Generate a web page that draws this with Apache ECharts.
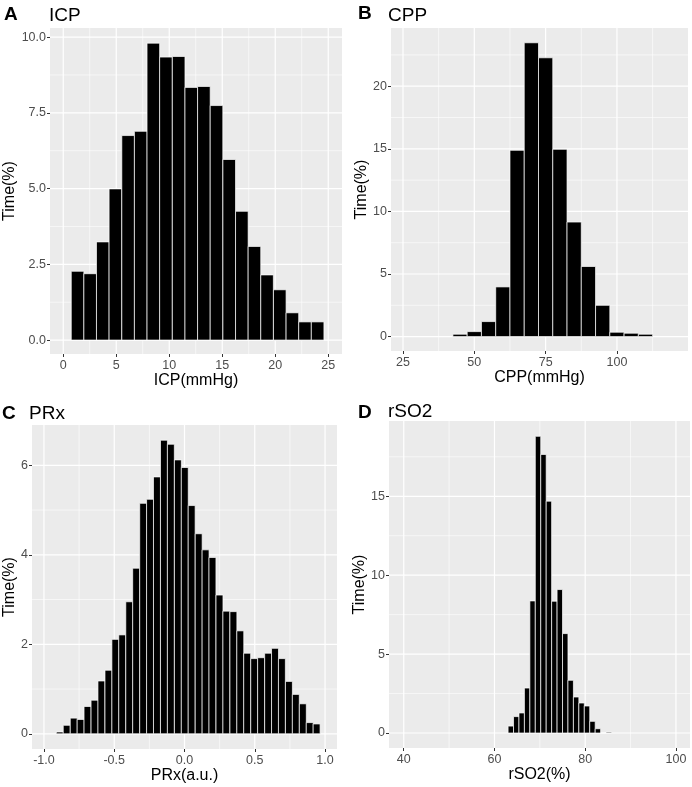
<!DOCTYPE html>
<html>
<head>
<meta charset="utf-8">
<title>ICP / CPP / PRx / rSO2 histograms</title>
<script src="https://cdn.jsdelivr.net/npm/echarts@6/dist/echarts.min.js"></script>
<style>
  html, body { margin: 0; padding: 0; background: #fff; }
  #main { width: 692px; height: 787px; }
</style>
</head>
<body>
<div id="main"></div>
<script>
// ---- data ----
// A: ICP
const icpCenters = [1.35, 2.54, 3.73, 4.92, 6.12, 7.31, 8.50, 9.69, 10.89, 12.08,
  13.27, 14.46, 15.66, 16.85, 18.04, 19.23, 20.43, 21.62, 22.81, 24.00];
const icpTime = [2.27, 2.19, 3.24, 4.99, 6.75, 6.89, 9.80, 9.34, 9.36, 8.34,
  8.37, 7.74, 5.96, 4.25, 3.09, 2.15, 1.66, 0.90, 0.60, 0.60];
const icpBin = 1.19;

// B: CPP
const cppCenters = [45, 50, 55, 60, 65, 70, 75, 80, 85, 90, 95, 100, 105, 110];
const cppTime = [0.19, 0.40, 1.20, 3.97, 14.88, 23.47, 22.27, 14.96, 9.15, 5.60,
  2.50, 0.35, 0.27, 0.19];
const cppBin = 5;

// C: PRx
const prxCenters = [-0.887, -0.838, -0.788, -0.739, -0.690, -0.640, -0.591, -0.541,
  -0.492, -0.443, -0.393, -0.344, -0.294, -0.245, -0.196, -0.146, -0.097, -0.047,
  0.002, 0.051, 0.101, 0.150, 0.199, 0.249, 0.298, 0.348, 0.397, 0.446, 0.496,
  0.545, 0.595, 0.644, 0.693, 0.743, 0.792, 0.842, 0.891, 0.940];
const prxTime = [0.04, 0.19, 0.35, 0.32, 0.61, 0.75, 1.18, 1.42, 2.11, 2.21,
  2.95, 3.70, 5.15, 5.24, 5.74, 6.56, 6.47, 6.12, 5.95, 5.10,
  4.47, 4.11, 3.94, 3.10, 2.74, 2.73, 2.30, 1.80, 1.68, 1.70,
  1.80, 1.91, 1.68, 1.17, 0.88, 0.67, 0.25, 0.22];
const prxBin = 0.0494;

// D: rSO2
const rso2Centers = [63.6, 64.8, 66.0, 67.2, 68.4, 69.6, 70.8, 72.0, 73.2, 74.4,
  75.6, 76.8, 78.0, 79.2, 80.4, 81.6, 82.8, 84.0, 85.2];
const rso2Time = [0.44, 1.04, 1.27, 2.85, 8.37, 18.80, 17.65, 14.69, 8.35, 9.09,
  6.30, 3.34, 2.28, 1.90, 1.71, 0.74, 0.27, 0, 0.05];
const rso2Bin = 1.2;

// ticks (major) and minor grid lines
const icpXTicks = [0, 5, 10, 15, 20, 25];
const icpXMinor = [2.5, 7.5, 12.5, 17.5, 22.5];
const icpYTicks = [0, 2.5, 5, 7.5, 10];
const icpYMinor = [1.25, 3.75, 6.25, 8.75];

const cppXTicks = [25, 50, 75, 100];
const cppXMinor = [37.5, 62.5, 87.5, 112.5];
const cppYTicks = [0, 5, 10, 15, 20];
const cppYMinor = [2.5, 7.5, 12.5, 17.5, 22.5];

const prxXTicks = [-1, -0.5, 0, 0.5, 1];
const prxXMinor = [-0.75, -0.25, 0.25, 0.75];
const prxYTicks = [0, 2, 4, 6];
const prxYMinor = [1, 3, 5];

const rso2XTicks = [40, 60, 80, 100];
const rso2XMinor = [50, 70, 90];
const rso2YTicks = [0, 5, 10, 15];
const rso2YMinor = [2.5, 7.5, 12.5, 17.5];

const FONT = 'Liberation Sans, Arial, Helvetica, sans-serif';

const panels = [
  { letter: 'A', title: 'ICP', xName: 'ICP(mmHg)',
    centers: icpCenters, values: icpTime, bin: icpBin,
    xTicks: icpXTicks, xMinor: icpXMinor, yTicks: icpYTicks, yMinor: icpYMinor,
    xFmt: v => String(v), yFmt: v => v.toFixed(1),
    grid: { left: 50, top: 28, width: 292, height: 326 },
    xMin: -1.25, xMax: 26.3, yMin: -0.46, yMax: 10.3, yGap: 31,
    letterPos: [4, 5], titlePos: [49, 6] },
  { letter: 'B', title: 'CPP', xName: 'CPP(mmHg)',
    centers: cppCenters, values: cppTime, bin: cppBin,
    xTicks: cppXTicks, xMinor: cppXMinor, yTicks: cppYTicks, yMinor: cppYMinor,
    xFmt: v => String(v), yFmt: v => String(v),
    grid: { left: 391, top: 28, width: 297, height: 323 },
    xMin: 20.8, xMax: 124.9, yMin: -1.15, yMax: 24.65, yGap: 21,
    letterPos: [358, 4], titlePos: [388, 6] },
  { letter: 'C', title: 'PRx', xName: 'PRx(a.u.)',
    centers: prxCenters, values: prxTime, bin: prxBin,
    xTicks: prxXTicks, xMinor: prxXMinor, yTicks: prxYTicks, yMinor: prxYMinor,
    xFmt: v => v.toFixed(1), yFmt: v => String(v),
    grid: { left: 32, top: 425, width: 305, height: 324 },
    xMin: -1.085, xMax: 1.085, yMin: -0.34, yMax: 6.9, yGap: 13,
    letterPos: [2, 404], titlePos: [29, 404] },
  { letter: 'D', title: 'rSO2', xName: 'rSO2(%)',
    centers: rso2Centers, values: rso2Time, bin: rso2Bin,
    xTicks: rso2XTicks, xMinor: rso2XMinor, yTicks: rso2YTicks, yMinor: rso2YMinor,
    xFmt: v => String(v), yFmt: v => String(v),
    grid: { left: 389, top: 421, width: 301, height: 327 },
    xMin: 36.75, xMax: 103.1, yMin: -0.95, yMax: 19.77, yGap: 20,
    letterPos: [358, 403], titlePos: [388, 402] }
];

function barRenderer(binWidth) {
  return function (params, api) {
    const c = api.value(0), h = api.value(1);
    const p0 = api.coord([c - binWidth / 2, 0]);
    const p1 = api.coord([c + binWidth / 2, h]);
    return {
      type: 'rect',
      shape: { x: p0[0], y: p1[1], width: p1[0] - p0[0], height: p0[1] - p1[1] },
      style: { fill: '#000', stroke: '#fff', lineWidth: 0.7 }
    };
  };
}

// kind: 0 major vertical, 1 minor vertical, 2 major horizontal, 3 minor horizontal
function gridRenderer(params, api) {
  const v = api.value(0), kind = api.value(1);
  const cs = params.coordSys;
  const major = kind === 0 || kind === 2;
  const style = { stroke: '#fff', lineWidth: major ? 1.2 : 0.6 };
  if (kind < 2) {
    const x = api.coord([v, 0])[0];
    return { type: 'line', shape: { x1: x, y1: cs.y, x2: x, y2: cs.y + cs.height }, style };
  }
  const y = api.coord([0, v])[1];
  return { type: 'line', shape: { x1: cs.x, y1: y, x2: cs.x + cs.width, y2: y }, style };
}

const option = {
  backgroundColor: '#fff',
  animation: false,
  title: [],
  grid: [],
  xAxis: [],
  yAxis: [],
  series: []
};

panels.forEach(function (p, i) {
  option.title.push({
    text: p.letter, left: p.letterPos[0], top: p.letterPos[1], padding: 0,
    textStyle: { fontFamily: FONT, fontSize: 19, fontWeight: 'bold', color: '#000' }
  });
  option.title.push({
    text: p.title, left: p.titlePos[0], top: p.titlePos[1], padding: 0,
    textStyle: { fontFamily: FONT, fontSize: 19, fontWeight: 'normal', color: '#000' }
  });
  option.grid.push(Object.assign({
    show: true, backgroundColor: '#EBEBEB', borderWidth: 0, containLabel: false
  }, p.grid));
  option.xAxis.push({
    type: 'value', gridIndex: i, min: p.xMin, max: p.xMax,
    name: p.xName, nameLocation: 'middle', nameGap: 15,
    nameTextStyle: { fontFamily: FONT, fontSize: 16, color: '#000' },
    axisLine: { show: false, onZero: false },
    axisTick: { show: true, customValues: p.xTicks, length: 3, lineStyle: { color: '#333', width: 1 } },
    axisLabel: { customValues: p.xTicks, formatter: p.xFmt, margin: 5,
      fontFamily: FONT, fontSize: 12.5, color: '#4D4D4D' },
    splitLine: { show: false }
  });
  option.yAxis.push({
    type: 'value', gridIndex: i, min: p.yMin, max: p.yMax,
    name: 'Time(%)', nameLocation: 'middle', nameGap: p.yGap,
    nameTextStyle: { fontFamily: FONT, fontSize: 16, color: '#000' },
    axisLine: { show: false, onZero: false },
    axisTick: { show: true, customValues: p.yTicks, length: 3, lineStyle: { color: '#333', width: 1 } },
    axisLabel: { customValues: p.yTicks, formatter: p.yFmt, margin: 4,
      fontFamily: FONT, fontSize: 12.5, color: '#4D4D4D' },
    splitLine: { show: false }
  });

  const lines = []
    .concat(p.xTicks.map(v => [v, 0]))
    .concat(p.xMinor.map(v => [v, 1]))
    .concat(p.yTicks.map(v => [v, 2]))
    .concat(p.yMinor.map(v => [v, 3]));
  option.series.push({
    type: 'custom', name: p.title + ' grid', xAxisIndex: i, yAxisIndex: i,
    silent: true, z: 1, renderItem: gridRenderer, data: lines,
    encode: { x: 0, y: 1 }
  });
  option.series.push({
    type: 'custom', name: p.title, xAxisIndex: i, yAxisIndex: i,
    z: 2, renderItem: barRenderer(p.bin),
    data: p.centers.map((c, k) => [c, p.values[k]]),
    encode: { x: 0, y: 1 }
  });
});

const chart = echarts.init(document.getElementById('main'), null, { renderer: 'canvas' });
chart.setOption(option);
</script>
</body>
</html>
